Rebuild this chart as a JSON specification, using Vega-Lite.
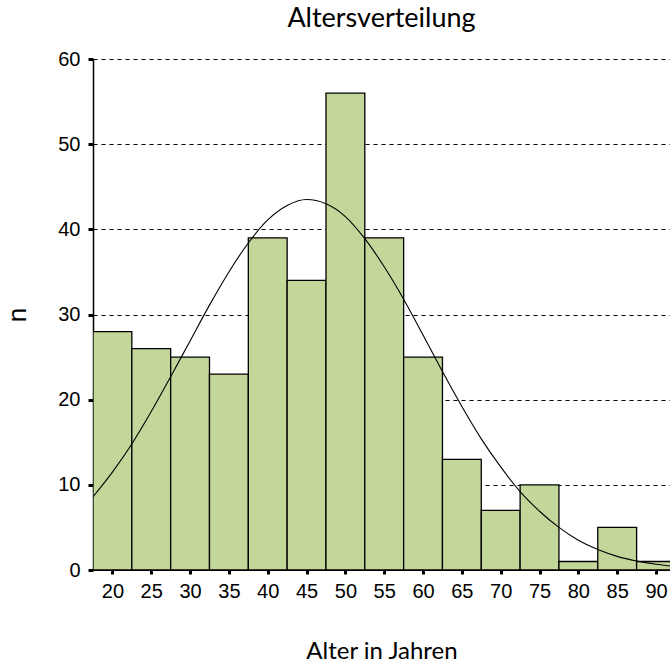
{
  "$schema": "https://vega.github.io/schema/vega-lite/v6.json",
  "autosize": {"type": "none"},
  "padding": {"left": 93, "top": 59, "right": 0, "bottom": 94},
  "width": 577,
  "height": 511,
  "background": "white",
  "title": {
    "text": "Altersverteilung",
    "font": "Lato",
    "fontSize": 27,
    "fontWeight": "normal",
    "color": "black",
    "anchor": "middle",
    "offset": 16
  },
  "datasets": {
    "bins": [
      {"alter": 20, "von": 17.5, "bis": 22.5, "n": 28},
      {"alter": 25, "von": 22.5, "bis": 27.5, "n": 26},
      {"alter": 30, "von": 27.5, "bis": 32.5, "n": 25},
      {"alter": 35, "von": 32.5, "bis": 37.5, "n": 23},
      {"alter": 40, "von": 37.5, "bis": 42.5, "n": 39},
      {"alter": 45, "von": 42.5, "bis": 47.5, "n": 34},
      {"alter": 50, "von": 47.5, "bis": 52.5, "n": 56},
      {"alter": 55, "von": 52.5, "bis": 57.5, "n": 39},
      {"alter": 60, "von": 57.5, "bis": 62.5, "n": 25},
      {"alter": 65, "von": 62.5, "bis": 67.5, "n": 13},
      {"alter": 70, "von": 67.5, "bis": 72.5, "n": 7},
      {"alter": 75, "von": 72.5, "bis": 77.5, "n": 10},
      {"alter": 80, "von": 77.5, "bis": 82.5, "n": 1},
      {"alter": 85, "von": 82.5, "bis": 87.5, "n": 5},
      {"alter": 90, "von": 87.5, "bis": 92.5, "n": 1}
    ],
    "kurve": [
      {"x": 17.5, "y": 8.6},
      {"x": 20, "y": 11.5},
      {"x": 22.5, "y": 14.8},
      {"x": 25, "y": 18.6},
      {"x": 27.5, "y": 22.7},
      {"x": 30, "y": 26.9},
      {"x": 32.5, "y": 31.1},
      {"x": 35, "y": 35.0},
      {"x": 37.5, "y": 38.4},
      {"x": 40, "y": 41.1},
      {"x": 42.5, "y": 42.8},
      {"x": 45, "y": 43.5},
      {"x": 47.5, "y": 43.0},
      {"x": 50, "y": 41.5},
      {"x": 52.5, "y": 38.9},
      {"x": 55, "y": 35.6},
      {"x": 57.5, "y": 31.8},
      {"x": 60, "y": 27.6},
      {"x": 62.5, "y": 23.3},
      {"x": 65, "y": 19.2},
      {"x": 67.5, "y": 15.4},
      {"x": 70, "y": 12.1},
      {"x": 72.5, "y": 9.2},
      {"x": 75, "y": 6.9},
      {"x": 77.5, "y": 5.0},
      {"x": 80, "y": 3.5},
      {"x": 82.5, "y": 2.4},
      {"x": 85, "y": 1.6},
      {"x": 87.5, "y": 1.05},
      {"x": 90, "y": 0.67},
      {"x": 92.5, "y": 0.41}
    ]
  },
  "layer": [
    {
      "data": {"name": "bins"},
      "mark": {"type": "rect", "fill": "#c4d79b", "stroke": "black", "strokeWidth": 1.3, "clip": true},
      "encoding": {
        "x": {
          "field": "von",
          "type": "quantitative",
          "scale": {"domain": [17.5, 91.8], "nice": false, "zero": false},
          "axis": {
            "title": "Alter in Jahren",
            "values": [20, 25, 30, 35, 40, 45, 50, 55, 60, 65, 70, 75, 80, 85, 90],
            "format": "d",
            "grid": false,
            "domain": true,
            "domainColor": "black",
            "tickColor": "black",
            "tickSize": 4,
            "tickWidth": 3,
            "labelFont": "Liberation Sans",
            "labelFontSize": 20,
            "labelColor": "black",
            "labelPadding": 7,
            "titleFont": "Lato",
            "titleFontSize": 24,
            "titleFontWeight": "normal",
            "titleColor": "black",
            "titlePadding": 38
          }
        },
        "x2": {"field": "bis"},
        "y": {
          "field": "n",
          "type": "quantitative",
          "scale": {"domain": [0, 60], "nice": false},
          "axis": {
            "title": "n",
            "values": [0, 10, 20, 30, 40, 50, 60],
            "grid": true,
            "gridColor": "black",
            "gridDash": [4, 4],
            "gridWidth": 1,
            "gridOpacity": 1,
            "domain": true,
            "domainColor": "black",
            "domainWidth": 1.5,
            "tickColor": "black",
            "tickSize": 5,
            "tickWidth": 3,
            "labelFont": "Liberation Sans",
            "labelFontSize": 20,
            "labelColor": "black",
            "labelPadding": 8,
            "titleFont": "Liberation Sans",
            "titleFontSize": 26,
            "titleFontWeight": "normal",
            "titleColor": "black",
            "titlePadding": 27
          }
        },
        "y2": {"datum": 0}
      }
    },
    {
      "data": {"name": "kurve"},
      "mark": {"type": "line", "color": "black", "strokeWidth": 1.1, "interpolate": "monotone", "clip": true},
      "encoding": {
        "x": {"field": "x", "type": "quantitative"},
        "y": {"field": "y", "type": "quantitative"}
      }
    }
  ],
  "config": {
    "view": {"stroke": null}
  }
}
